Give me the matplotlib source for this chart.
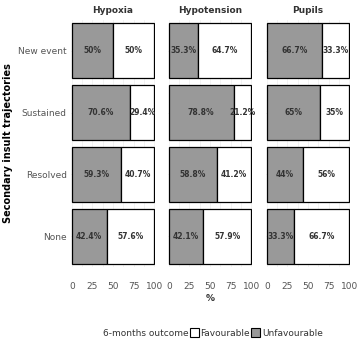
import matplotlib
matplotlib.use('Agg')
import matplotlib.pyplot as plt
import matplotlib.patches as mpatches
import numpy as np

panels = ['Hypoxia', 'Hypotension', 'Pupils']
trajectories = ['New event', 'Sustained', 'Resolved', 'None']
unfavourable = {
    'Hypoxia': [50, 70.6, 59.3, 42.4],
    'Hypotension': [35.3, 78.8, 58.8, 42.1],
    'Pupils': [66.7, 65, 44, 33.3],
}
favourable = {
    'Hypoxia': [50, 29.4, 40.7, 57.6],
    'Hypotension': [64.7, 21.2, 41.2, 57.9],
    'Pupils': [33.3, 35, 56, 66.7],
}
ticks = [0, 25, 50, 75, 100]

GREY = '#999999'
W, H = 358, 339
fig = plt.figure(figsize=(W / 100, H / 100), dpi=100)

lefts = [71, 168, 266]
pw = 84
top, bottom = 20, 267

def fmt(v):
    return f'{v:g}%'

for i, name in enumerate(panels):
    ax = fig.add_axes([lefts[i] / W, 1 - bottom / H, pw / W, (bottom - top) / H])
    y = np.arange(len(trajectories))
    unf = unfavourable[name]
    fav = favourable[name]
    ax.barh(y, unf, height=0.89, color=GREY, edgecolor='black', linewidth=0.9, zorder=3)
    ax.barh(y, fav, left=unf, height=0.89, color='white', edgecolor='black', linewidth=0.9, zorder=3)
    for yi, u, f in zip(y, unf, fav):
        ax.text(u / 2, yi, fmt(u), ha='center', va='center', fontsize=5.5,
                fontweight='bold', color='#333333', zorder=4)
        ax.text(u + f / 2, yi, fmt(f), ha='center', va='center', fontsize=5.5,
                fontweight='bold', color='#333333', zorder=4)
    ax.set_xlim(-1, 101)
    ax.set_ylim(len(trajectories) - 0.5, -0.5)
    ax.set_xticks(ticks)
    ax.set_xticklabels([str(t) for t in ticks], fontsize=6.5, color='#555555')
    ax.set_xticks([12.5, 37.5, 62.5, 87.5], minor=True)
    ax.grid(True, which='both', color='#eeeeee', linewidth=0.5, zorder=0)
    ax.set_yticks(y)
    if i == 0:
        ax.set_yticklabels(trajectories, fontsize=6.5, color='#555555')
        ax.set_ylabel('Secondary insult trajectories', fontsize=7, fontweight='bold',
                      labelpad=4)
    else:
        ax.set_yticklabels([])
    ax.tick_params(length=0, pad=3)
    ax.tick_params(axis='x', pad=11)
    ax.tick_params(which='minor', length=0)
    for s in ax.spines.values():
        s.set_visible(False)
    ax.set_title(name, fontsize=6.5, fontweight='bold', color='#333333', pad=5)
    if i == 1:
        ax.set_xlabel('%', fontsize=6.5, fontweight='bold', color='#333333', labelpad=2)

blank = mpatches.Rectangle((0, 0), 1, 1, visible=False)
handles = [blank,
           mpatches.Patch(facecolor='white', edgecolor='black', linewidth=0.8, label='Favourable'),
           mpatches.Patch(facecolor=GREY, edgecolor='black', linewidth=0.8, label='Unfavourable')]
labels = ['6-months outcome', 'Favourable', 'Unfavourable']
leg = fig.legend(handles=handles, labels=labels, loc='center',
                 bbox_to_anchor=(0.58, 1 - 333 / H), ncol=3,
                 frameon=False, fontsize=6.5, handlelength=1.0, handleheight=1.0,
                 handletextpad=0.2, columnspacing=0.1)
for t in leg.get_texts():
    t.set_color('#333333')

fig.savefig('out.png', dpi=100)
